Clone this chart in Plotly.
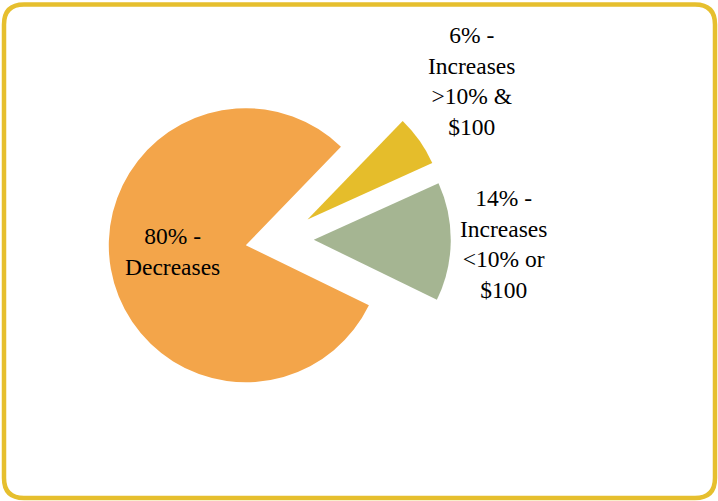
import plotly.graph_objects as go

# Data
categories = ["Increases >10% & $100", "Increases <10% or $100", "Decreases"]
values = [6, 14, 80]
label_texts = ["6% -<br>Increases<br>>10% &<br>$100",
               "14% -<br>Increases<br><10% or<br>$100",
               "80% -<br>Decreases"]
colors = ["#E5BD2B", "#A5B592", "#F3A54A"]

W, H = 718, 501

fig = go.Figure(go.Pie(
    labels=categories,
    values=values,
    sort=False,
    direction="clockwise",
    rotation=44,
    pull=[0.25, 0.25, 0.25],
    marker=dict(colors=colors, line=dict(width=0)),
    textinfo="none",
    hoverinfo="label+percent",
    showlegend=False,
    domain=dict(x=[0.1508, 0.6278], y=[0.1806, 0.8642]),
))

# label positions (pixel centres)
label_pos = [(472, 81), (503, 244), (172, 252)]
for txt, (px, py) in zip(label_texts, label_pos):
    fig.add_annotation(
        text=txt, x=px / W, y=1 - py / H, xref="paper", yref="paper",
        xanchor="center", yanchor="middle", showarrow=False, align="center",
        font=dict(family="Liberation Serif", size=23.5, color="#000000"),
    )

# rounded border
x0, x1 = 4 / W, 715 / W
y0, y1 = 1 - 498 / H, 1 - 4.5 / H
rx, ry = 20 / W, 20 / H
path = (f"M {x0+rx} {y1} L {x1-rx} {y1} Q {x1} {y1} {x1} {y1-ry} "
        f"L {x1} {y0+ry} Q {x1} {y0} {x1-rx} {y0} "
        f"L {x0+rx} {y0} Q {x0} {y0} {x0} {y0+ry} "
        f"L {x0} {y1-ry} Q {x0} {y1} {x0+rx} {y1} Z")
fig.add_shape(type="path", path=path, xref="paper", yref="paper",
              line=dict(color="#E6BF2E", width=4.5), fillcolor="rgba(0,0,0,0)")

fig.update_layout(
    width=W, height=H,
    margin=dict(l=0, r=0, t=0, b=0),
    paper_bgcolor="white", plot_bgcolor="white",
)

fig.write_html("out.html", config={"displayModeBar": False},
               post_script="document.body.style.margin='0';document.body.style.overflow='hidden';")
